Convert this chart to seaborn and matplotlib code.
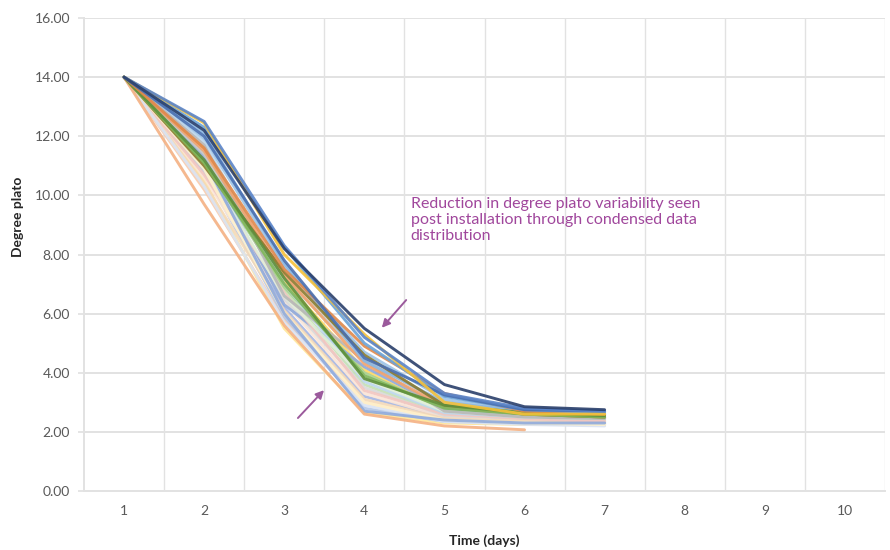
import numpy as np
import pandas as pd
import matplotlib
matplotlib.use("Agg")
import matplotlib.pyplot as plt
import seaborn as sns

days = [1, 2, 3, 4, 5, 6, 7]
x_tick_labels = ["1", "2", "3", "4", "5", "6", "7", "8", "9", "10"]
y_ticks = [0, 2, 4, 6, 8, 10, 12, 14, 16]
nan = np.nan

# degree plato per batch (day 1..7), pastel batches first, saturated last
b01 = [14.0, 10.2, 5.8, 3.0, 2.40, 2.30, 2.25]
b02 = [14.0, 10.5, 5.5, 2.65, 2.30, 2.25, 2.25]
b03 = [14.0, 10.8, 5.9, 2.8, 2.35, 2.30, 2.30]
b04 = [14.0, 11.0, 6.2, 3.2, 2.50, 2.35, 2.30]
b05 = [14.0, 11.4, 6.8, 3.6, 2.60, 2.40, 2.35]
b06 = [14.0, 10.6, 6.4, 3.3, 2.50, 2.40, 2.40]
b07 = [14.0, 11.6, 7.1, 4.1, 2.70, 2.50, 2.40]
b08 = [14.0, 11.9, 7.6, 4.7, 3.10, 2.70, 2.60]
b09 = [14.0, 11.1, 6.9, 4.0, 2.75, 2.55, 2.45]
b10 = [14.0, 10.9, 6.5, 3.5, 2.55, 2.45, 2.40]
b11 = [14.0, 10.4, 6.1, 3.1, 2.45, 2.35, 2.30]
b12 = [14.0, 11.3, 6.3, 4.2, 2.80, 2.55, 2.50]
b13 = [14.0, 10.7, 6.7, 3.4, 2.60, 2.45, 2.35]
b14 = [14.0, 11.8, 7.0, 3.7, 2.65, 2.50, 2.45]
b15 = [14.0, 10.3, 5.7, 2.9, 2.35, 2.25, 2.20]
b16 = [14.0, 11.0, 6.6, 3.8, 2.70, 2.50, 2.45]
b17 = [14.0, 10.9, 6.0, 3.0, 2.40, 2.30, 2.25]
b18 = [14.0, 11.2, 6.0, 2.7, 2.40, 2.30, 2.30]
b19 = [14.0, 11.4, 7.2, 4.5, 2.90, 2.60, 2.50]
b20 = [14.0, 11.7, 6.6, 4.4, 2.70, 2.50, 2.45]
b21 = [14.0, 11.5, 7.3, 4.3, 2.85, 2.60, 2.50]
b22 = [14.0, 12.1, 7.7, 4.4, 3.00, 2.70, 2.60]
b23 = [14.0, 9.7, 5.6, 2.6, 2.20, 2.07, nan]
b24 = [14.0, 11.0, 7.4, 4.6, 2.90, 2.60, 2.50]
b25 = [14.0, 11.1, 7.0, 3.9, 2.80, 2.60, 2.50]
b26 = [14.0, 11.2, 7.2, 3.8, 2.90, 2.65, 2.55]
b27 = [14.0, 11.6, 7.5, 4.9, 3.30, 2.70, 2.60]
b28 = [14.0, 12.3, 8.25, 5.0, 3.20, 2.75, 2.65]
b29 = [14.0, 12.0, 7.8, 4.5, 3.25, 2.75, 2.70]
b30 = [14.0, 12.45, 8.0, 5.3, 3.00, 2.60, 2.60]
b31 = [14.0, 12.5, 8.3, 5.2, 3.30, 2.80, 2.70]
b32 = [14.0, 12.2, 8.2, 5.5, 3.60, 2.85, 2.75]

batches = [b01, b02, b03, b04, b05, b06, b07, b08, b09, b10, b11, b12, b13, b14,
           b15, b16, b17, b18, b19, b20, b21, b22, b23, b24, b25, b26, b27, b28,
           b29, b30, b31, b32]
batch_colors = ["#F8CBAD", "#FFE699", "#B4C7E7", "#A4B5E3", "#C5E0B4", "#FBE5D6",
                "#FFD966", "#9DC3E6", "#A9D18E", "#D9D9D9", "#F4D9B8", "#8EA9DB",
                "#F2C6C0", "#BDD7EE", "#DAE3F3", "#E2F0D9", "#FFF2CC", "#8FAADC",
                "#C9C9C9", "#B7B7B7", "#F1A36E", "#8DB8E2", "#F4B183", "#8A7A2E",
                "#7FB65A", "#5E8F3C", "#E0884A", "#6AA3D8", "#4A6FB0", "#F5C13A",
                "#5A84C9", "#2A3F6B"]

rows = []
for i, b in enumerate(batches):
    for d, v in zip(days, b):
        if not np.isnan(v):
            rows.append({"batch": f"B{i+1:02d}", "day": d, "plato": v})
df = pd.DataFrame(rows)

sns.set_theme(style="white")
plt.rcParams["font.family"] = ["Lato", "DejaVu Sans"]

fig = plt.figure(figsize=(8.9, 5.5), dpi=100)
ax = fig.add_axes([84/890, 59/550, 801/890, 473/550])

grid_c = "#E2E2E2"
ax.set_xlim(0.5, 10.5)
ax.set_ylim(0, 16)
ax.set_yticks(y_ticks)
ax.set_yticklabels([f"{v:.2f}" for v in y_ticks])
ax.set_xticks(range(1, 11))
ax.set_xticklabels(x_tick_labels)
for yv in y_ticks[1:]:
    ax.axhline(yv, color=grid_c, lw=1.4, zorder=0)
for xv in np.arange(1.5, 10.6, 1.0):
    ax.axvline(xv, color=grid_c, lw=1.0, zorder=0)

sns.lineplot(data=df, x="day", y="plato", hue="batch", palette=batch_colors,
             linewidth=2.1, alpha=0.9, legend=False, ax=ax, sort=False, estimator=None)

for s in ["top", "right"]:
    ax.spines[s].set_visible(False)
for s in ["left", "bottom"]:
    ax.spines[s].set_color(grid_c)
    ax.spines[s].set_linewidth(1.4)

ax.set_xticks(np.arange(0.5, 10.6, 2.0), minor=True)
ax.tick_params(axis="x", which="major", length=0, pad=10, labelsize=10, colors="#595959")
ax.tick_params(axis="x", which="minor", length=5, color=grid_c, width=1)
ax.tick_params(axis="y", which="major", length=4, color=grid_c, pad=6, labelsize=10,
               colors="#595959", left=True)

ax.set_xlabel("Time (days)", fontsize=10, fontweight="bold", color="#262626")
ax.xaxis.label.set_va("center")
ax.xaxis.set_label_coords(0.5, -0.106)
ax.set_ylabel("Degree plato", fontsize=10, fontweight="bold", color="#262626")
ax.yaxis.label.set_va("center")
ax.yaxis.set_label_coords(-0.082, 0.58)

purple = "#A0479C"
ax.text(4.58, 9.95, "Reduction in degree plato variability seen\npost installation through condensed data\ndistribution",
        color=purple, fontsize=11.5, va="top", ha="left", linespacing=1.2)
ax.annotate("", xy=(4.195, 5.45), xytext=(4.545, 6.53),
            arrowprops=dict(arrowstyle="-|>", color="#9B5A9C", lw=1.4, mutation_scale=12))
ax.annotate("", xy=(3.52, 3.48), xytext=(3.147, 2.40),
            arrowprops=dict(arrowstyle="-|>", color="#9B5A9C", lw=1.4, mutation_scale=12))

fig.savefig("out.png", dpi=100)
